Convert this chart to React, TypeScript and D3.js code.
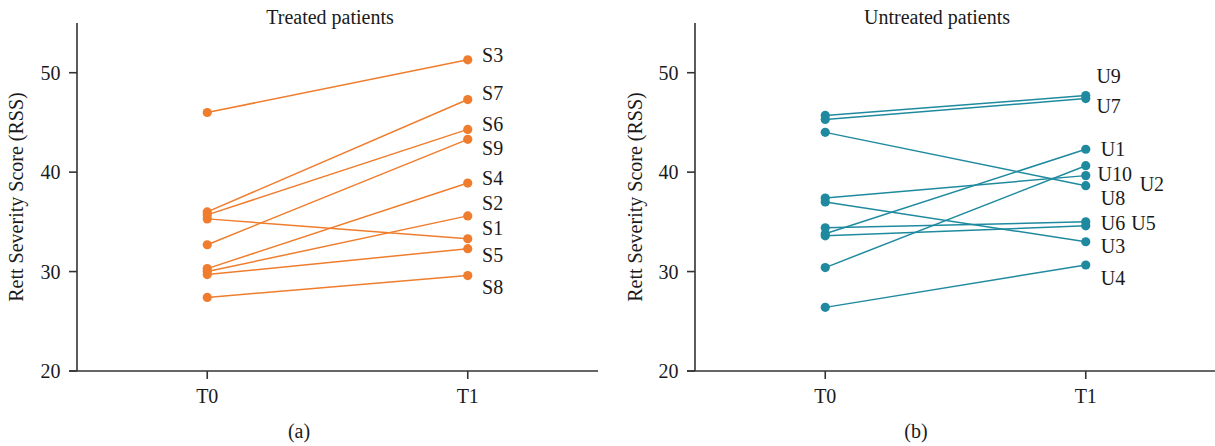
import React from "react";
import * as d3 from "d3";

// ---- Data ----
const timepoints = ["T0", "T1"];
const yTicks = [20, 30, 40, 50];

const treatedIds = ["S1", "S2", "S3", "S4", "S5", "S6", "S7", "S8", "S9"];
const treatedT0 = [35.3, 30.0, 46.0, 30.3, 29.7, 35.7, 36.0, 27.4, 32.7];
const treatedT1 = [33.3, 35.6, 51.3, 38.9, 32.3, 44.3, 47.3, 29.6, 43.3];
// label placement (score units / x units)
const treatedLabelY = [34.36, 36.87, 51.79, 39.39, 31.67, 44.85, 47.94, 28.48, 42.4];
const treatedLabelX = [1.055, 1.055, 1.055, 1.055, 1.055, 1.055, 1.055, 1.055, 1.055];

const untreatedIds = ["U1", "U2", "U3", "U4", "U5", "U6", "U7", "U8", "U9", "U10"];
const untreatedT0 = [33.8, 37.4, 37.0, 26.4, 33.6, 34.4, 45.3, 44.0, 45.7, 30.4];
const untreatedT1 = [42.3, 39.65, 33.0, 30.66, 34.6, 35.0, 47.4, 38.64, 47.7, 40.65];
const untreatedLabelY = [42.3, 38.81, 32.58, 29.33, 34.85, 34.85, 46.69, 37.37, 49.68, 39.82];
const untreatedLabelX = [1.058, 1.207, 1.058, 1.058, 1.175, 1.058, 1.041, 1.058, 1.041, 1.045];

const FONT = "'Liberation Serif', 'Times New Roman', serif";
const TEXT = "#1a1a1a";
const AXIS = "#333";

type PanelProps = {
  left: number;
  right: number;
  title: string;
  titleX: number;
  caption: string;
  captionX: number;
  ids: string[];
  t0: number[];
  t1: number[];
  labelX: number[];
  labelY: number[];
  color: string;
  ylabelX: number;
};

function Panel(p: PanelProps) {
  const x = d3.scaleLinear().domain([-0.5, 1.5]).range([p.left, p.right]);
  const y = d3.scaleLinear().domain([20, 55]).range([371, 23]);
  const line = d3
    .line<[number, number]>()
    .x((d) => x(d[0]))
    .y((d) => y(d[1]));
  return (
    <g>
      {/* axes */}
      <line x1={x(-0.5)} x2={x(-0.5)} y1={y(55)} y2={y(20)} stroke={AXIS} strokeWidth={1.6} />
      <line x1={x(-0.5) - 8} x2={x(1.5)} y1={y(20)} y2={y(20)} stroke={AXIS} strokeWidth={1.6} />
      {yTicks.map((t) => (
        <g key={t}>
          <line x1={x(-0.5) - 8} x2={x(-0.5)} y1={y(t)} y2={y(t)} stroke={AXIS} strokeWidth={1.6} />
          <text
            x={x(-0.5) - 16.5}
            y={y(t)}
            dy="0.35em"
            textAnchor="end"
            fontFamily={FONT}
            fontSize={20}
            fill={TEXT}
          >
            {t}
          </text>
        </g>
      ))}
      {timepoints.map((tp, i) => (
        <g key={tp}>
          <line x1={x(i)} x2={x(i)} y1={y(20)} y2={y(20) + 8} stroke={AXIS} strokeWidth={1.6} />
          <text x={x(i)} y={403} textAnchor="middle" fontFamily={FONT} fontSize={20} fill={TEXT}>
            {tp}
          </text>
        </g>
      ))}
      <text
        transform={`translate(${p.ylabelX},${y(37.5)}) rotate(-90)`}
        textAnchor="middle"
        fontFamily={FONT}
        fontSize={20}
        fill={TEXT}
      >
        Rett Severity Score (RSS)
      </text>
      <text x={p.titleX} y={24} textAnchor="middle" fontFamily={FONT} fontSize={20} fill={TEXT}>
        {p.title}
      </text>
      <text x={p.captionX} y={438} textAnchor="middle" fontFamily={FONT} fontSize={20} fill={TEXT}>
        {p.caption}
      </text>
      {/* lines */}
      {p.ids.map((id, i) => (
        <path
          key={"l" + id}
          d={line([
            [0, p.t0[i]],
            [1, p.t1[i]],
          ]) as string}
          fill="none"
          stroke={p.color}
          strokeWidth={1.5}
        />
      ))}
      {/* points */}
      {p.ids.map((id, i) => (
        <g key={"p" + id}>
          <circle cx={x(0)} cy={y(p.t0[i])} r={4.6} fill={p.color} />
          <circle cx={x(1)} cy={y(p.t1[i])} r={4.6} fill={p.color} />
        </g>
      ))}
      {/* labels */}
      {p.ids.map((id, i) => (
        <text
          key={"t" + id}
          x={x(p.labelX[i])}
          y={y(p.labelY[i])}
          dy="0.35em"
          fontFamily={FONT}
          fontSize={20}
          fill={TEXT}
        >
          {id}
        </text>
      ))}
    </g>
  );
}

export default function App() {
  return (
    <>
      <style>{`body{margin:0}`}</style>
      <svg width={1215} height={446} style={{ display: "block", background: "#fff" }}>
        <Panel
          left={77}
          right={598}
          title="Treated patients"
          titleX={330}
          caption="(a)"
          captionX={299}
          ids={treatedIds}
          t0={treatedT0}
          t1={treatedT1}
          labelX={treatedLabelX}
          labelY={treatedLabelY}
          color="#EF7D2D"
          ylabelX={23}
        />
        <Panel
          left={695}
          right={1216}
          title="Untreated patients"
          titleX={937}
          caption="(b)"
          captionX={916}
          ids={untreatedIds}
          t0={untreatedT0}
          t1={untreatedT1}
          labelX={untreatedLabelX}
          labelY={untreatedLabelY}
          color="#1F8A9F"
          ylabelX={642}
        />
      </svg>
    </>
  );
}
